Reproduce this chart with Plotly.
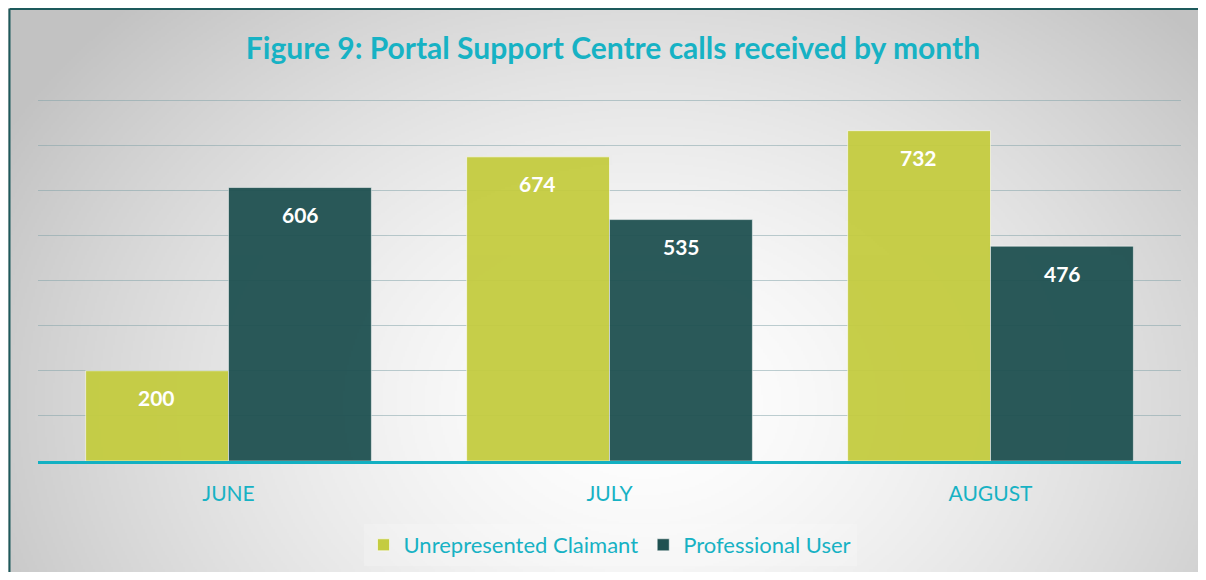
import base64
import struct
import zlib

import numpy as np
import plotly.graph_objects as go

# chart data
months = ["JUNE", "JULY", "AUGUST"]
claimant = [200, 674, 732]
professional = [606, 535, 476]

# the page body has an 8px margin, so the figure is shifted 8px right/down
W, H = 1198, 564
TEAL = "#17b2c4"
GREEN = "#c4cc40"
DARK = "#1f5151"


def radial_png(w, h):
    # soft white-to-grey radial fill, like the office chart background
    yy, xx = np.mgrid[0:h, 0:w]
    cx, cy = 0.53 * w, 0.70 * h
    r = np.sqrt(((xx - cx) / (0.58 * w)) ** 2 + ((yy - cy) / (0.95 * h)) ** 2)
    v = 255 - 56 * np.clip(r, 0, 1.05) ** 1.5
    v = np.clip(v, 0, 255).astype(np.uint8)
    img = np.dstack([v, v, v])
    raw = b"".join(b"\x00" + img[i].tobytes() for i in range(h))

    def chunk(tag, data):
        c = tag + data
        return struct.pack(">I", len(data)) + c + struct.pack(">I", zlib.crc32(c) & 0xFFFFFFFF)

    png = b"\x89PNG\r\n\x1a\n"
    png += chunk(b"IHDR", struct.pack(">IIBBBBB", w, h, 8, 2, 0, 0, 0))
    png += chunk(b"IDAT", zlib.compress(raw, 9))
    png += chunk(b"IEND", b"")
    return "data:image/png;base64," + base64.b64encode(png).decode()


fig = go.Figure()
fig.add_bar(x=months, y=claimant, name="Unrepresented Claimant",
            marker=dict(color=GREEN, opacity=0.95,
                        line=dict(color="rgba(255,255,255,0.6)", width=1)))
fig.add_bar(x=months, y=professional, name="Professional User",
            marker=dict(color=DARK, opacity=0.95,
                        line=dict(color="rgba(255,255,255,0.5)", width=1)))

# value labels near the top of each bar
for m, a, b in zip(months, claimant, professional):
    for val, shift in ((a, -72), (b, 72)):
        fig.add_annotation(x=m, y=val, text=f"<b>{val}</b>", showarrow=False,
                           xshift=shift, yshift=-27, yanchor="middle",
                           font=dict(size=21, color="white", family="Lato"))

fig.add_layout_image(source=radial_png(W // 2, H // 2), xref="paper", yref="paper",
                     x=0, y=1, sizex=1, sizey=1, sizing="stretch",
                     xanchor="left", yanchor="top", layer="below")
bx, by = 1.5 / W, 1 - 1 / H
fig.add_shape(type="line", xref="paper", yref="paper", x0=bx, x1=bx, y0=-0.01, y1=by,
              line=dict(color="#1d5a5c", width=2))
fig.add_shape(type="line", xref="paper", yref="paper", x0=bx, x1=1.01, y0=by, y1=by,
              line=dict(color="#1d5a5c", width=2))

px_per_unit = 0.45125
top_px = 92 - 5 * px_per_unit
fig.update_layout(
    width=W, height=H,
    margin=dict(l=0, r=0, t=0, b=0),
    paper_bgcolor="white",
    plot_bgcolor="rgba(0,0,0,0)",
    barmode="group", bargap=0.25, bargroupgap=0,
    font=dict(family="Lato", color=TEAL),
    title=dict(text="<b>Figure 9: Portal Support Centre calls received by month</b>",
               x=605 / W, xanchor="center", y=1 - 40 / H, yanchor="middle",
               font=dict(size=30, color=TEAL, family="Lato")),
    xaxis=dict(domain=[30 / W, 1173 / W], showline=True, linecolor="#12b0c2",
               linewidth=3, tickfont=dict(size=21, color=TEAL),
               ticklabelstandoff=12, showgrid=False),
    yaxis=dict(domain=[(H - 453) / H, (H - top_px) / H], range=[0, 805], dtick=100,
               showticklabels=False, zeroline=False,
               gridcolor="rgba(125,160,165,0.5)", gridwidth=1),
    legend=dict(orientation="h", x=602 / W, xanchor="center", y=1 - 537 / H,
                yanchor="middle", font=dict(size=22, color=TEAL),
                bgcolor="rgba(255,255,255,0.2)"),
    showlegend=True,
)

fig.write_html("out.html")
